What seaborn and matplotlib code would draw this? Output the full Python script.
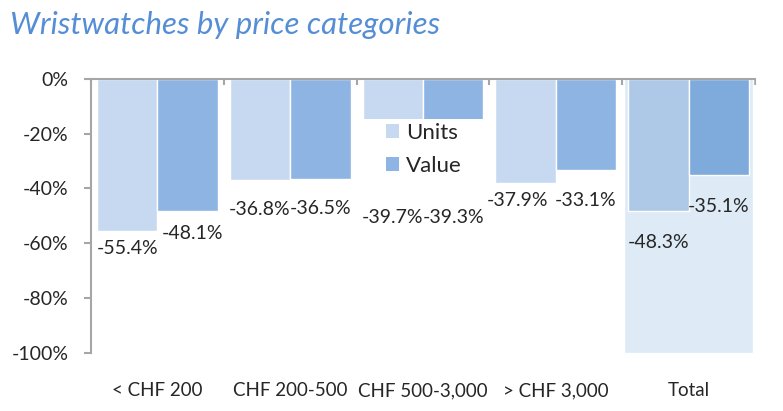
import matplotlib
matplotlib.use("Agg")
import matplotlib.pyplot as plt
from matplotlib.patches import Patch, Rectangle
import seaborn as sns
import pandas as pd

# ---- data ----
categories = ["< CHF 200", "CHF 200-500", "CHF 500-3,000", "> CHF 3,000", "Total"]
units = [-55.4, -36.8, -39.7, -37.9, -48.3]
value = [-48.1, -36.5, -39.3, -33.1, -35.1]
series = ["Units", "Value"]
total_background = [-100]
yticks = [0, -20, -40, -60, -80, -100]

# ---- style ----
sns.set_style("white")
plt.rcParams["font.family"] = ["Lato", "DejaVu Sans"]
TXT = "#262626"
GRID = "#a6a6a6"
col_units, col_value = "#c6d9f0", "#8eb4e3"
col_units_tot, col_value_tot = "#adc9e7", "#7eaadc"
col_bg = "#deebf6"

df = pd.DataFrame({
    "category": categories * 2,
    "series": [series[0]] * len(units) + [series[1]] * len(value),
    "change": units + value,
})

fig = plt.figure(figsize=(7.83, 4.11), dpi=100)
ax = fig.add_axes([0.1162, 0.1418, 0.848, 0.666])

# background bar behind Total
sns.barplot(x=["Total"], y=total_background, order=categories, width=0.97,
            color=col_bg, saturation=1, ax=ax, zorder=1)
# main bars
sns.barplot(data=df, x="category", y="change", hue="series", order=categories,
            hue_order=series, palette=[col_units, col_value], saturation=1,
            width=0.91, errorbar=None, legend=False, ax=ax, zorder=2)

# recolour Total bars & add labels
dy_units = [18, 30, 30, 18, 31]
dx_units = [0, 0, 0, -8, 0]
dy_value = [23, 30, 31, 31, 31]
dx_value = [5, 0, 0, 0, 0]
for p in ax.patches:
    h = p.get_height()
    if h == total_background[0]:
        continue
    cx = p.get_x() + p.get_width() / 2
    idx = int(round(cx))
    is_units = cx < idx
    if idx == 4:
        p.set_facecolor(col_units_tot if is_units else col_value_tot)
    dx = dx_units[idx] if is_units else dx_value[idx]
    dy = dy_units[idx] if is_units else dy_value[idx]
    ax.annotate(f"{h:.1f}%", xy=(cx, h), xytext=(dx, -dy),
                textcoords="offset pixels", ha="center", va="center",
                fontsize=14, color=TXT, zorder=6)

ax.set_ylim(-100, 0)
ax.set_xlim(-0.5, 4.5)
ax.set_yticks(yticks)
ax.set_yticklabels([f"{t}%" for t in yticks])
ax.set_xlabel("")
ax.set_ylabel("")

for s in ["bottom", "right"]:
    ax.spines[s].set_visible(False)
for s in ["left", "top"]:
    ax.spines[s].set_color(GRID)
    ax.spines[s].set_linewidth(1.5)

ax.tick_params(axis="y", which="major", left=True, direction="out", length=5,
               width=1.5, color=GRID, labelsize=14, labelcolor=TXT, pad=11)
ax.tick_params(axis="x", which="major", bottom=False, top=False, length=0,
               labelsize=13.5, labelcolor=TXT, pad=21)
ax.set_xticks([i - 0.5 for i in range(len(categories) + 1)], minor=True)
ax.tick_params(axis="x", which="minor", bottom=False, top=True, direction="in",
               length=4.5, width=1.5, color=GRID)

# legend with opaque white box
ax.add_patch(Rectangle((0.402, 0.602), 0.191, 0.252, transform=ax.transAxes,
                       facecolor="white", edgecolor="none", zorder=3))
handles = [Patch(facecolor=col_units, edgecolor="none"),
           Patch(facecolor=col_value, edgecolor="none")]
leg = ax.legend(handles, series, loc="upper left", bbox_to_anchor=(0.444, 0.84),
                frameon=False, borderpad=0, borderaxespad=0, fontsize=16,
                handlelength=0.58, handleheight=0.64, handletextpad=0.33,
                labelspacing=0.58)
leg.set_zorder(5)
for t in leg.get_texts():
    t.set_color(TXT)

fig.text(10 / 783, 1 - 34 / 411, "Wristwatches by price categories",
         fontsize=22.5, style="italic", color="#558ed5", ha="left", va="baseline")

fig.savefig("out.png", dpi=100)
